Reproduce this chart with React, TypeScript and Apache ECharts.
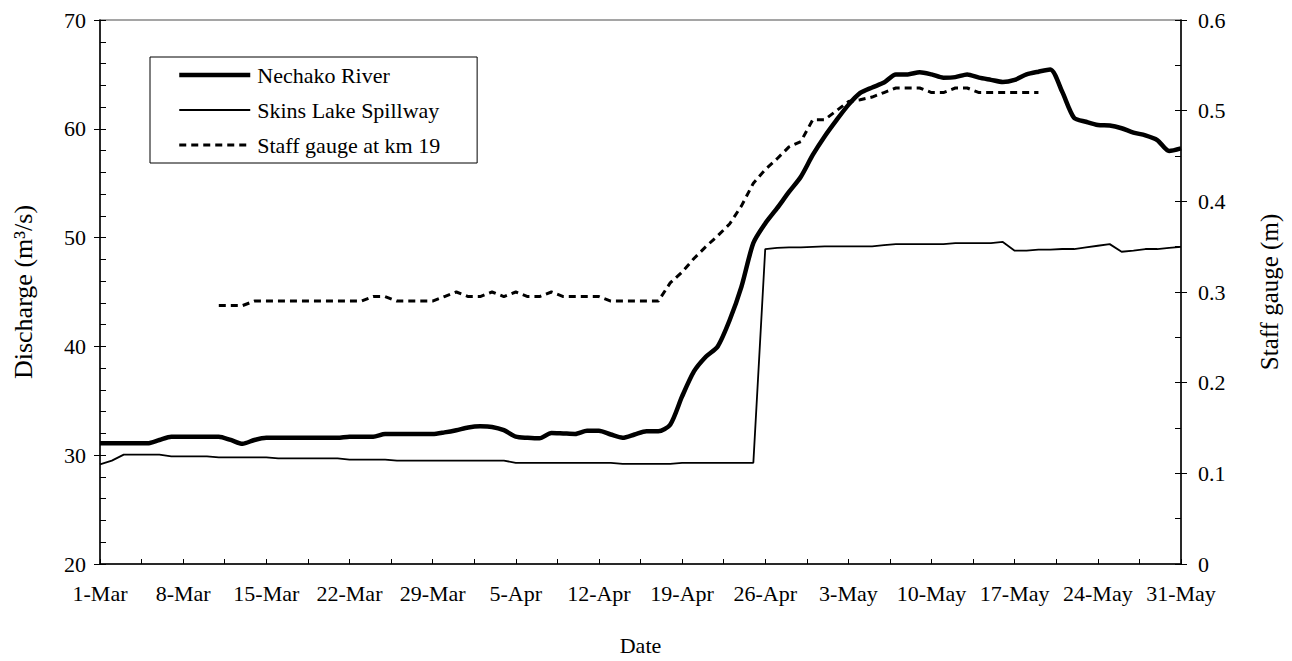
import { useEffect, useRef } from "react";
import * as echarts from "echarts";

const FONT = "Liberation Serif";

// Tick labels every 7 days, starting 1-Mar (day index 0)
const tickLabels = [
  "1-Mar", "8-Mar", "15-Mar", "22-Mar", "29-Mar", "5-Apr", "12-Apr",
  "19-Apr", "26-Apr", "3-May", "10-May", "17-May", "24-May", "31-May",
];

// Daily discharge (m3/s), 1-Mar .. 31-May (92 days)
const nechakoRiver = [
  31.1, 31.1, 31.1, 31.1, 31.1, 31.4, 31.7, 31.7, 31.7, 31.7,
  31.7, 31.4, 31.05, 31.4, 31.6, 31.6, 31.6, 31.6, 31.6, 31.6,
  31.6, 31.7, 31.7, 31.7, 31.95, 31.95, 31.95, 31.95, 31.95, 32.1,
  32.3, 32.55, 32.65, 32.6, 32.3, 31.7, 31.6, 31.55, 32.05, 32.0,
  31.95, 32.25, 32.25, 31.9, 31.6, 31.9, 32.2, 32.2, 32.8, 35.4,
  37.7, 39.05, 40.0, 42.4, 45.5, 49.5, 51.3, 52.7, 54.2, 55.6,
  57.6, 59.3, 60.8, 62.2, 63.3, 63.8, 64.25, 65.0, 65.0, 65.2,
  65.0, 64.7, 64.75, 65.0, 64.7, 64.5, 64.3, 64.5, 65.0, 65.25,
  65.45, 63.4, 61.0, 60.65, 60.35, 60.3, 60.05, 59.65, 59.4, 58.97,
  57.96, 58.2,
];

const skinsLakeSpillway = [
  29.15, 29.5, 30.05, 30.05, 30.05, 30.05, 29.9, 29.9, 29.9, 29.9,
  29.8, 29.8, 29.8, 29.8, 29.8, 29.7, 29.7, 29.7, 29.7, 29.7,
  29.7, 29.6, 29.6, 29.6, 29.6, 29.5, 29.5, 29.5, 29.5, 29.5,
  29.5, 29.5, 29.5, 29.5, 29.5, 29.3, 29.3, 29.3, 29.3, 29.3,
  29.3, 29.3, 29.3, 29.3, 29.2, 29.2, 29.2, 29.2, 29.2, 29.3,
  29.3, 29.3, 29.3, 29.3, 29.3, 29.3, 48.95, 49.05, 49.1, 49.1,
  49.15, 49.2, 49.2, 49.2, 49.2, 49.2, 49.3, 49.4, 49.4, 49.4,
  49.4, 49.4, 49.5, 49.5, 49.5, 49.5, 49.6, 48.8, 48.8, 48.9,
  48.9, 48.95, 48.95, 49.1, 49.25, 49.4, 48.7, 48.8, 48.95, 48.95,
  49.05, 49.15,
];

// Staff gauge (m), day index 10 (11-Mar) .. 79 (19-May)
const staffGaugeStart = 10;
const staffGauge = [
  0.285, 0.285, 0.285, 0.29, 0.29, 0.29, 0.29, 0.29, 0.29, 0.29,
  0.29, 0.29, 0.29, 0.295, 0.295, 0.29, 0.29, 0.29, 0.29, 0.295,
  0.3, 0.295, 0.295, 0.3, 0.295, 0.3, 0.295, 0.295, 0.3, 0.295,
  0.295, 0.295, 0.295, 0.29, 0.29, 0.29, 0.29, 0.29, 0.31, 0.322,
  0.337, 0.35, 0.362, 0.375, 0.395, 0.42, 0.435, 0.447, 0.46, 0.466,
  0.49, 0.49, 0.5, 0.51, 0.512, 0.515, 0.52, 0.525, 0.525, 0.525,
  0.52, 0.52, 0.525, 0.525, 0.52, 0.52, 0.52, 0.52, 0.52, 0.52,
];

const seriesNames = ["Nechako River", "Skins Lake Spillway", "Staff gauge at km 19"];

export default function App() {
  const ref = useRef<HTMLDivElement>(null);

  useEffect(() => {
    const chart = echarts.init(ref.current!, null, { renderer: "svg" });
    const text = { fontFamily: FONT, fontSize: 22, color: "#000" };
    const axisLine = { show: true, lineStyle: { color: "#000", width: 1.5 } };
    const lineStyles: any[] = [
      { color: "#000", width: 4.5 },
      { color: "#000", width: 1.8 },
      { color: "#000", width: 3, type: [7, 5] },
    ];

    chart.setOption({
      animation: false,
      backgroundColor: "#fff",
      textStyle: { fontFamily: FONT, color: "#000" },
      grid: {
        left: 100,
        right: 111,
        top: 20,
        bottom: 97,
        show: true,
        borderColor: "#888",
        borderWidth: 1.5,
        backgroundColor: "transparent",
      },
      legend: {
        orient: "vertical",
        left: 150,
        top: 57,
        padding: [7, 37, 7, 27],
        itemGap: 13,
        itemWidth: 71,
        itemHeight: 22,
        backgroundColor: "#fff",
        borderColor: "#000",
        borderWidth: 1,
        borderRadius: 0,
        itemStyle: { opacity: 0 },
        textStyle: { fontFamily: FONT, fontSize: 22, color: "#000", padding: [0, 0, 0, 2] },
        data: seriesNames.map((name, i) => ({
          name,
          lineStyle: lineStyles[i],
          itemStyle: { opacity: 0, color: "transparent", borderWidth: 0 },
          textStyle: { fontFamily: FONT, fontSize: 22, color: "#000" },
        })),
      },
      xAxis: {
        type: "value",
        min: 0,
        max: 91,
        interval: 3.5,
        name: "Date",
        nameLocation: "middle",
        nameGap: 70,
        nameTextStyle: text,
        axisLine,
        axisTick: { show: true, inside: true, length: 5, lineStyle: { color: "#000", width: 1 } },
        splitLine: { show: false },
        axisLabel: {
          ...text,
          margin: 18,
          showMinLabel: true,
          showMaxLabel: true,
          formatter: (v: number) => {
            const k = Math.round(v / 3.5);
            return k % 2 === 0 ? tickLabels[k / 2] ?? "" : "";
          },
        },
      },
      yAxis: [
        {
          type: "value",
          position: "left",
          min: 20,
          max: 70,
          interval: 10,
          name: "Discharge (m³/s)",
          nameLocation: "middle",
          nameGap: 64,
          nameTextStyle: { ...text, fontSize: 26 },
          axisLine,
          axisTick: { show: true, inside: true, length: 6, lineStyle: { color: "#000", width: 1 } },
          minorTick: { show: true, splitNumber: 5, length: 6, lineStyle: { color: "#000", width: 1 } },
          splitLine: { show: false },
          axisLabel: { ...text, margin: 14 },
        },
        {
          type: "value",
          position: "right",
          min: 0,
          max: 0.6,
          interval: 0.1,
          name: "Staff gauge (m)",
          nameLocation: "middle",
          nameGap: 76,
          nameTextStyle: { ...text, fontSize: 25 },
          axisLine,
          axisTick: { show: true, inside: true, length: 6, lineStyle: { color: "#000", width: 1 } },
          minorTick: { show: true, splitNumber: 2, length: 6, lineStyle: { color: "#000", width: 1 } },
          splitLine: { show: false },
          axisLabel: { ...text, margin: 17 },
        },
        {
          type: "value",
          position: "left",
          min: 20,
          max: 70,
          interval: 10,
          axisLine: { show: false },
          axisTick: { show: true, inside: false, length: 6, lineStyle: { color: "#000", width: 1 } },
          splitLine: { show: false },
          axisLabel: { show: false },
        },
        {
          type: "value",
          position: "right",
          min: 0,
          max: 0.6,
          interval: 0.1,
          axisLine: { show: false },
          axisTick: { show: true, inside: false, length: 6, lineStyle: { color: "#000", width: 1 } },
          splitLine: { show: false },
          axisLabel: { show: false },
        },
      ],
      series: [
        {
          name: seriesNames[0],
          type: "line",
          yAxisIndex: 0,
          symbol: "none",
          smooth: 0.25,
          lineStyle: lineStyles[0],
          itemStyle: { color: "#000" },
          data: nechakoRiver.map((v, i) => [i, v]),
          z: 3,
        },
        {
          name: seriesNames[1],
          type: "line",
          yAxisIndex: 0,
          symbol: "none",
          lineStyle: lineStyles[1],
          itemStyle: { color: "#000" },
          data: skinsLakeSpillway.map((v, i) => [i, v]),
          z: 2,
        },
        {
          name: seriesNames[2],
          type: "line",
          yAxisIndex: 1,
          symbol: "none",
          lineStyle: lineStyles[2],
          itemStyle: { color: "#000" },
          data: staffGauge.map((v, i) => [staffGaugeStart + i, v]),
          z: 2,
        },
      ],
    });

    return () => chart.dispose();
  }, []);

  return (
    <div
      ref={ref}
      style={{ position: "fixed", left: 0, top: 0, width: 1292, height: 661, background: "#fff" }}
    />
  );
}
